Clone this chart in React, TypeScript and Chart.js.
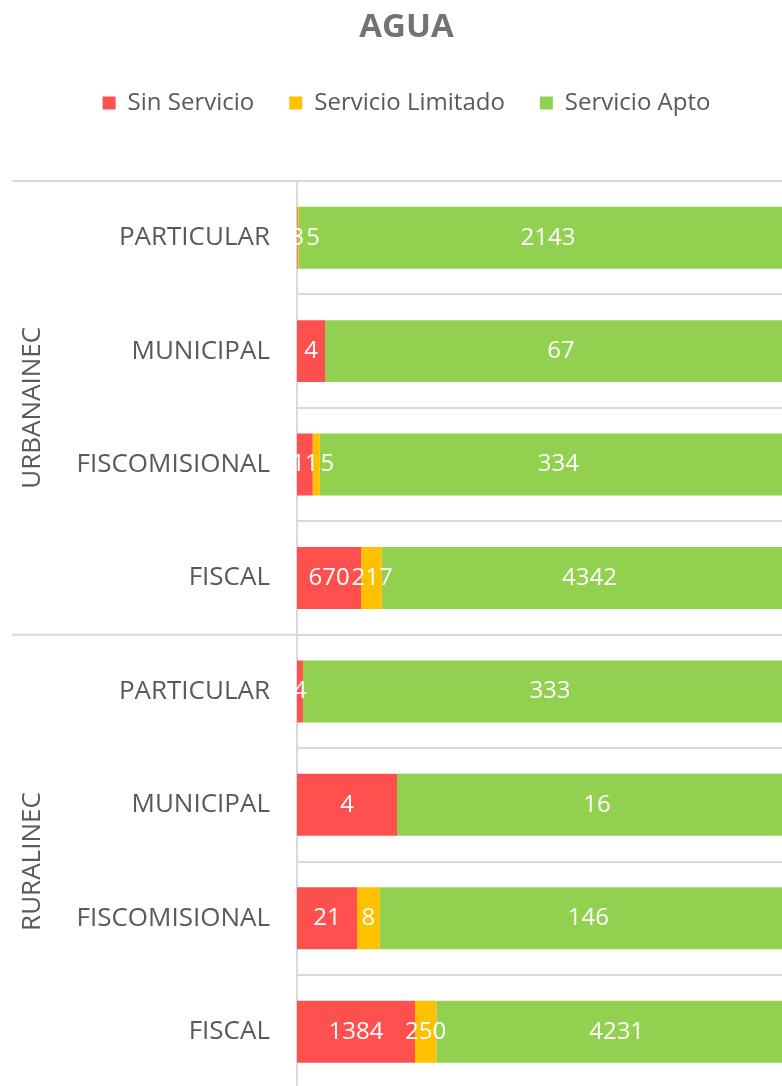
import React, { useEffect, useRef } from 'react';
import { Chart, registerables } from 'chart.js';

Chart.register(...registerables);

// ---- Data ----
const groups = ['URBANAINEC', 'RURALINEC'];
const groupSizes = [4, 4];
const categories = [
  'PARTICULAR', 'MUNICIPAL', 'FISCOMISIONAL', 'FISCAL',
  'PARTICULAR', 'MUNICIPAL', 'FISCOMISIONAL', 'FISCAL',
];
const sinServicio = [3, 4, 11, 670, 4, 4, 21, 1384];
const servicioLimitado = [5, 0, 5, 217, 0, 0, 8, 250];
const servicioApto = [2143, 67, 334, 4342, 333, 16, 146, 4231];
const seriesNames = ['Sin Servicio', 'Servicio Limitado', 'Servicio Apto'];
const seriesColors = ['#FF5050', '#FFC000', '#92D050'];
const chartTitle = 'AGUA';

const FONT = "'Open Sans', sans-serif";
const TEXT_GRAY = '#595959';
const GRID_GRAY = '#d9d9d9';

const legendSpacer = {
  id: 'legendSpacer',
  beforeInit(chart: any) {
    const legend = chart.legend;
    if (!legend) return;
    const orig = legend.fit;
    legend.fit = function () {
      orig.call(this);
      this.height += 56;
    };
  },
  afterLayout(chart: any) {
    if (chart.legend) {
      chart.legend.left += 8;
      chart.legend.right += 8;
    }
    if (chart.titleBlock) {
      chart.titleBlock.left += 8;
      chart.titleBlock.right += 8;
    }
  },
};

const groupPlugin = {
  id: 'groupLabels',
  afterDraw(chart: any) {
    const ctx = chart.ctx;
    const y = chart.scales.y;
    const area = chart.chartArea;
    ctx.save();
    ctx.strokeStyle = GRID_GRAY;
    ctx.lineWidth = 2;
    let start = 0;
    const bounds: number[] = [area.top];
    groupSizes.forEach((size) => {
      const end = start + size - 1;
      const next = end + 1;
      if (next < categories.length) {
        bounds.push((y.getPixelForValue(end) + y.getPixelForValue(next)) / 2);
      } else {
        bounds.push(area.bottom);
      }
      start += size;
    });
    bounds.forEach((b) => {
      ctx.beginPath();
      ctx.moveTo(12, b);
      ctx.lineTo(area.left, b);
      ctx.stroke();
    });
    ctx.fillStyle = TEXT_GRAY;
    ctx.font = `26px ${FONT}`;
    ctx.textAlign = 'center';
    ctx.textBaseline = 'middle';
    groups.forEach((g, gi) => {
      const cy = (bounds[gi] + bounds[gi + 1]) / 2;
      ctx.save();
      ctx.translate(33, cy);
      ctx.rotate(-Math.PI / 2);
      ctx.fillText(g, 0, 0);
      ctx.restore();
    });
    ctx.restore();
  },
};

const dataLabelPlugin = {
  id: 'dataLabels',
  afterDatasetsDraw(chart: any) {
    const ctx = chart.ctx;
    ctx.save();
    ctx.font = `24px ${FONT}`;
    ctx.fillStyle = '#ffffff';
    ctx.textAlign = 'center';
    ctx.textBaseline = 'middle';
    const n = chart.data.labels.length;
    const prevRight: number[] = new Array(n).fill(-Infinity);
    chart.data.datasets.forEach((ds: any, di: number) => {
      const meta = chart.getDatasetMeta(di);
      meta.data.forEach((el: any, i: number) => {
        const count = ds.counts[i];
        if (!count) return;
        const { x, y, base } = el.getProps(['x', 'y', 'base'], true);
        const text = String(count);
        const w = ctx.measureText(text).width;
        let cx = (x + base) / 2;
        if (cx - w / 2 < prevRight[i] + 2) cx = prevRight[i] + 2 + w / 2;
        ctx.fillText(text, cx, y);
        prevRight[i] = cx + w / 2;
      });
    });
    ctx.restore();
  },
};

export default function App() {
  const ref = useRef<HTMLCanvasElement>(null);

  useEffect(() => {
    if (!ref.current) return;
    const series = [sinServicio, servicioLimitado, servicioApto];
    const totals = categories.map((_, i) => series.reduce((s, arr) => s + arr[i], 0));
    const chart = new Chart(ref.current, {
      type: 'bar',
      data: {
        labels: categories,
        datasets: series.map((arr, si) => ({
          label: seriesNames[si],
          data: arr.map((v, i) => (v / totals[i]) * 100),
          counts: arr,
          backgroundColor: seriesColors[si],
          borderWidth: 0,
          barPercentage: 0.546,
          categoryPercentage: 1,
        })) as any,
      },
      options: {
        indexAxis: 'y',
        responsive: false,
        animation: false,
        devicePixelRatio: 1,
        layout: { padding: { top: 0, left: 0, right: 16, bottom: 0 } },
        font: { family: FONT } as any,
        scales: {
          x: { stacked: true, min: 0, max: 100, display: false },
          y: {
            stacked: true,
            grid: { color: GRID_GRAY, lineWidth: 2, drawTicks: false, offset: true },
            border: { display: true, color: GRID_GRAY, width: 2 },
            ticks: {
              color: TEXT_GRAY,
              font: { family: FONT, size: 26 },
              padding: 27,
              autoSkip: false,
            },
            afterFit: (s: any) => {
              s.width = 297;
            },
          },
        },
        plugins: {
          title: {
            display: true,
            text: chartTitle,
            color: '#737373',
            font: { family: FONT, size: 33, weight: 'bold' },
            padding: { top: 8, bottom: 8.4 },
          },
          legend: {
            position: 'top',
            labels: {
              boxWidth: 13,
              boxHeight: 13,
              color: TEXT_GRAY,
              font: { family: FONT, size: 24 },
              padding: 35,
            },
          },
          tooltip: { enabled: false },
        },
      } as any,
      plugins: [legendSpacer, groupPlugin, dataLabelPlugin],
    });
    return () => chart.destroy();
  }, []);

  return (
    <div
      style={{
        position: 'fixed',
        left: 0,
        top: 0,
        width: 782,
        height: 1086,
        overflow: 'hidden',
        background: '#ffffff',
      }}
    >
      <canvas ref={ref} width={813} height={1131} style={{ display: 'block' }} />
    </div>
  );
}
